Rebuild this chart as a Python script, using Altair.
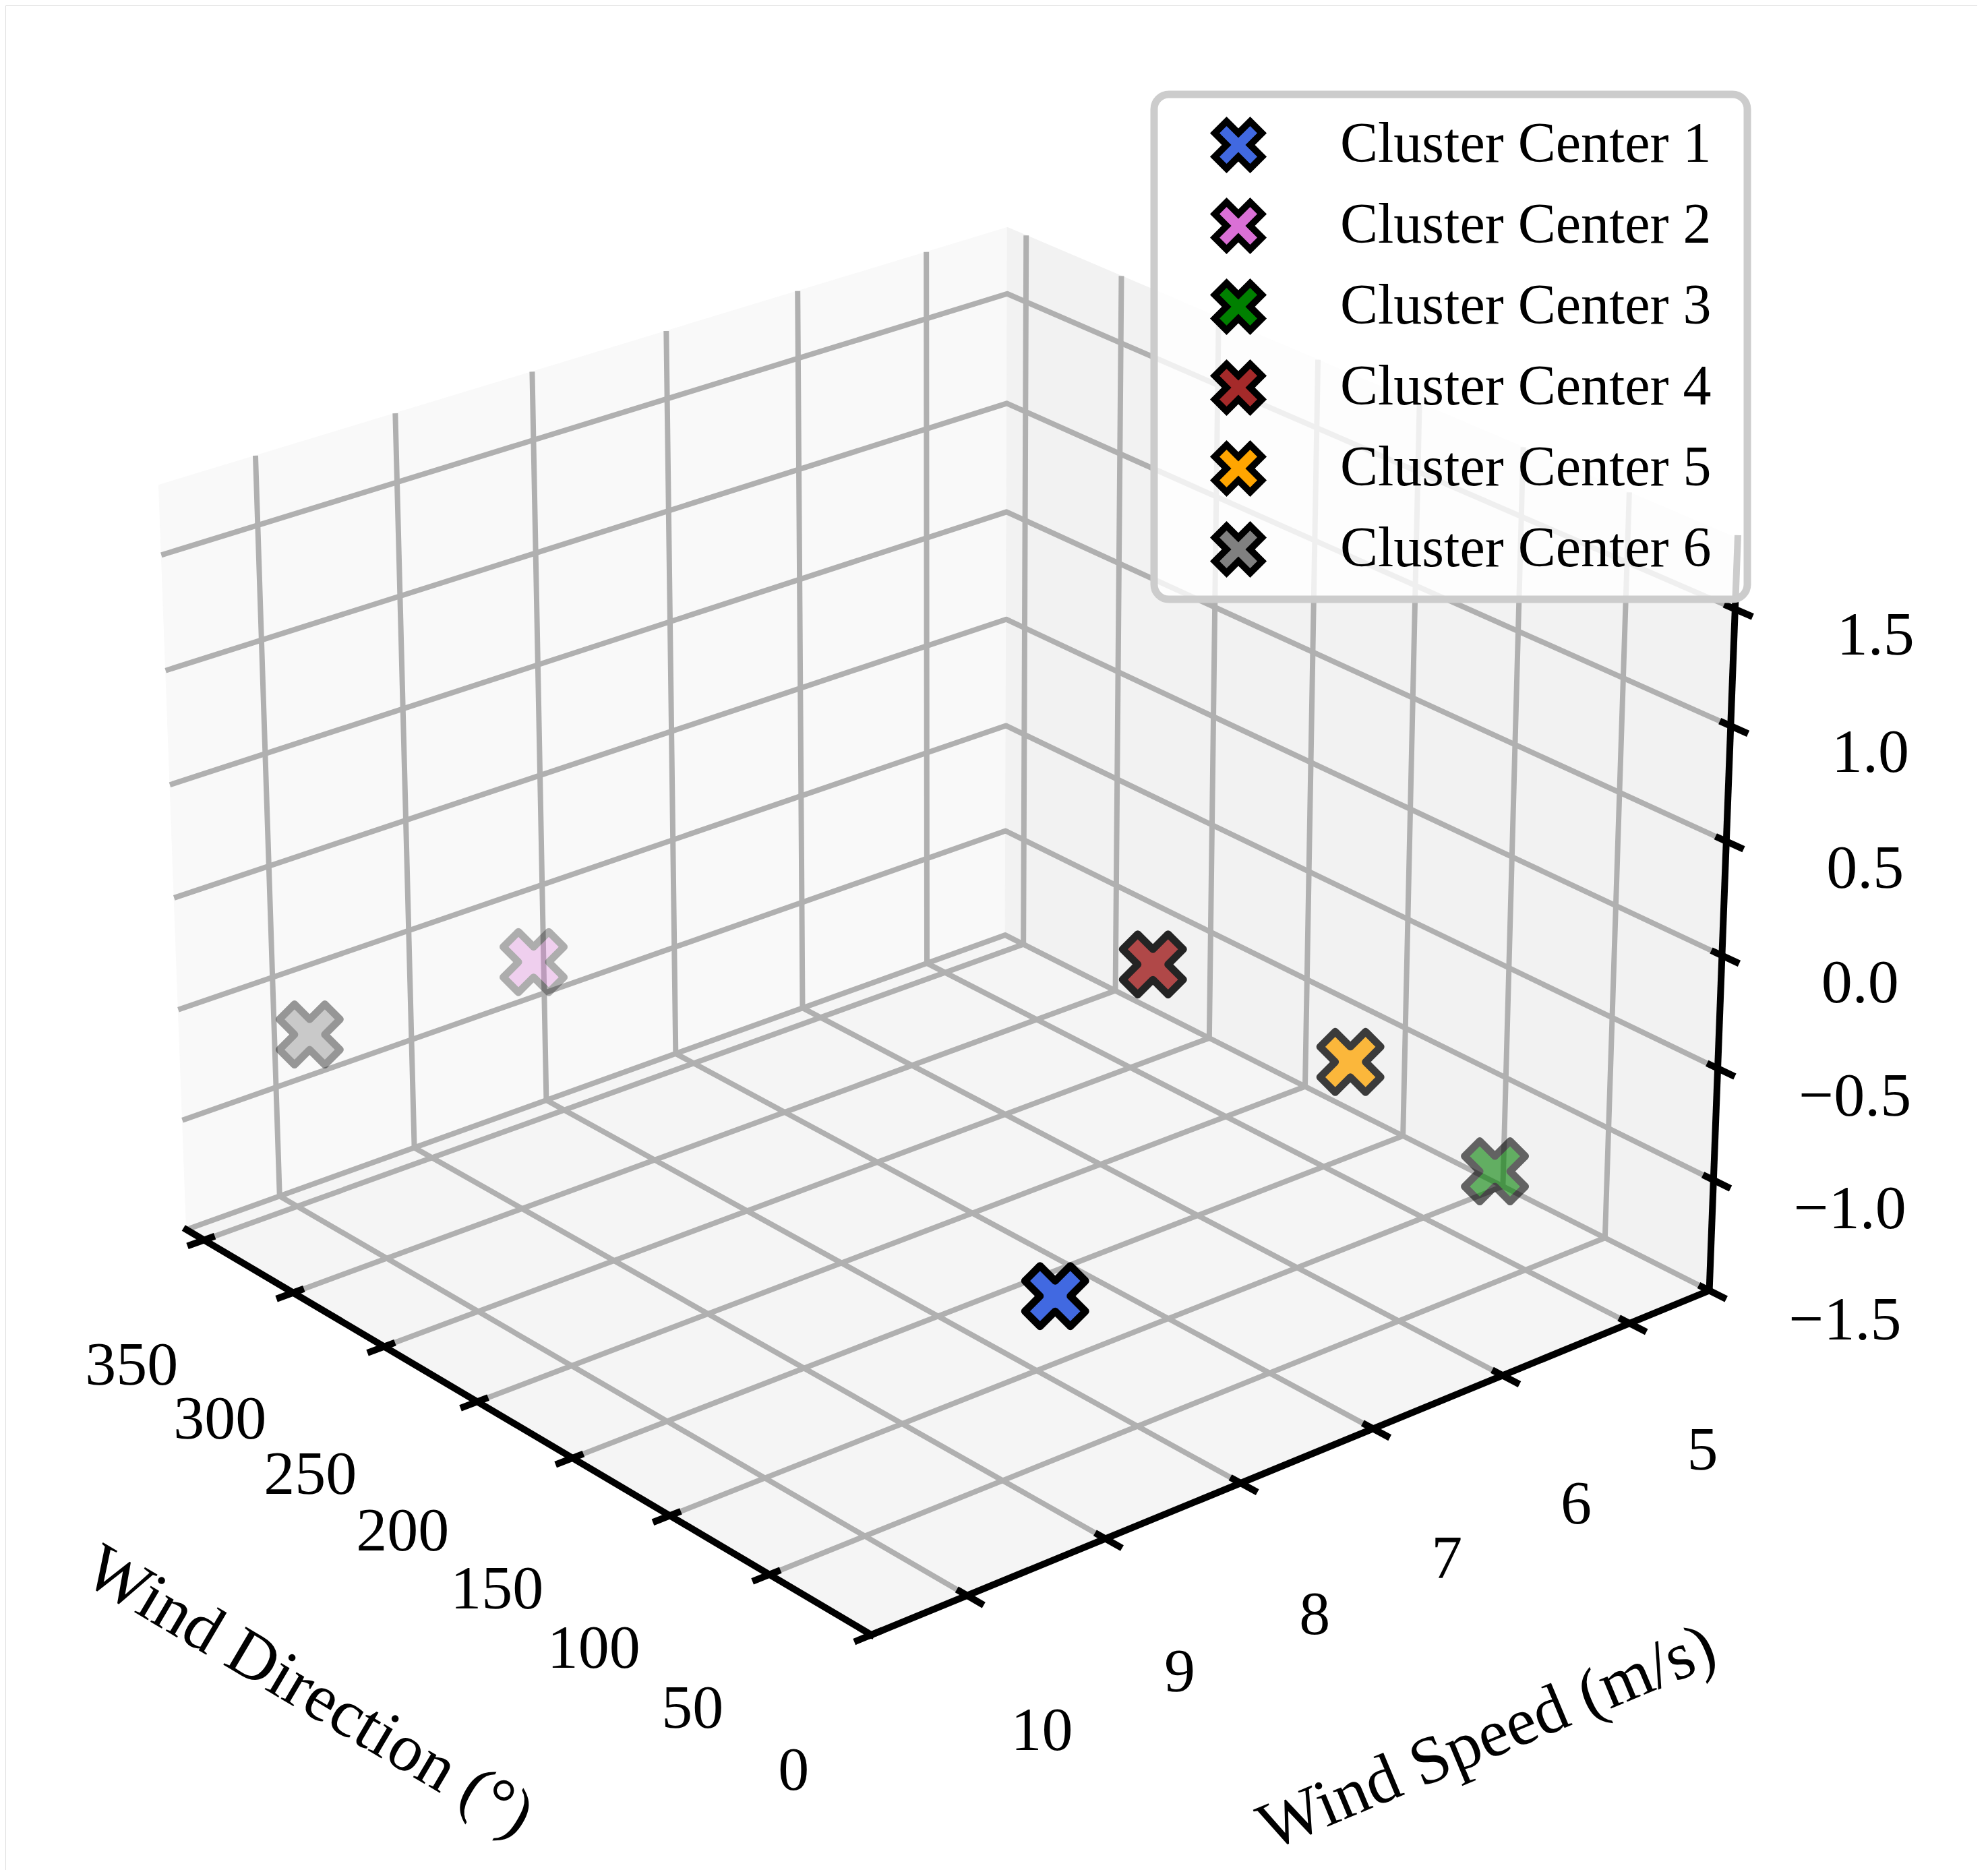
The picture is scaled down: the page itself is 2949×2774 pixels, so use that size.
import math
import altair as alt
import pandas as pd

# ---------------- data ----------------
CLUSTERS = ["Cluster Center 1", "Cluster Center 2", "Cluster Center 3",
            "Cluster Center 4", "Cluster Center 5", "Cluster Center 6"]
COLORS = ["#4169e1", "#da70d6", "#008000", "#a52a2a", "#ffa500", "#808080"]
DIRECTION = [50.0, 338.0, 48.6, 93.3, 59.9, 358.0]
SPEED = [8.62, 8.37, 5.29, 7.25, 6.26, 9.77]
ZVAL = [-0.78, -0.68, -0.98, 0.16, -0.33, -0.80]

X_TICKS = [0, 50, 100, 150, 200, 250, 300, 350]
Y_TICKS = [5, 6, 7, 8, 9, 10]
Z_TICKS = [-1.5, -1.0, -0.5, 0.0, 0.5, 1.0, 1.5]
X_LIM = [0.0, 360.0]
Y_LIM = [4.36, 10.68]
Z_LIM = [-1.5, 1.8]
X_TITLE = "Wind Direction (°)"
Y_TITLE = "Wind Speed (m/s)"

# ---------------- view (3D projection) ----------------
W, H = 2925, 2766
ELEV, AZIM, DIST = 25.0, 140.0, 10.0
S, CX, CY = 14284.0, 1391.0, 1316.0
e, a = math.radians(ELEV), math.radians(AZIM)
U_ = (-math.sin(a), math.cos(a), 0.0)
V_ = (-math.sin(e) * math.cos(a), -math.sin(e) * math.sin(a), math.cos(e))
W_ = (math.cos(e) * math.cos(a), math.cos(e) * math.sin(a), math.sin(e))
_n = math.sqrt(4 * 4 + 4 * 4 + 3 * 3)
BOX = [b * 1.8294640721620434 / _n for b in (4, 4, 3)]


def _q(field, lim, b):
    return f"((datum['{field}']-({lim[0]}))/({lim[1] - lim[0]})*{b}-{b / 2})"


def proj(xf, yf, zf, sx="px", sy="py", depth=None):
    qx, qy, qz = _q(xf, X_LIM, BOX[0]), _q(yf, Y_LIM, BOX[1]), _q(zf, Z_LIM, BOX[2])
    U = f"({U_[0]}*{qx}+({U_[1]})*{qy})"
    V = f"({V_[0]}*{qx}+({V_[1]})*{qy}+({V_[2]})*{qz})"
    D = f"({W_[0]}*{qx}+({W_[1]})*{qy}+({W_[2]})*{qz})"
    out = {sx: f"{CX}+{S}*{U}/({DIST}-{D})", sy: f"{CY}-{S}*{V}/({DIST}-{D})"}
    if depth:
        out[depth] = f"-{DIST}/({DIST}-{D})"
    return out


XS = alt.Scale(domain=[0, W], nice=False, zero=False)
YS = alt.Scale(domain=[0, H], nice=False, zero=False, reverse=True)


def xy(xf="px", yf="py"):
    return dict(x=alt.X(f"{xf}:Q", scale=XS, axis=None),
                y=alt.Y(f"{yf}:Q", scale=YS, axis=None))


FONT = "Liberation Serif"
x0, x1 = X_LIM
y0, y1 = Y_LIM
z0, z1 = Z_LIM

# ---------------- panes ----------------
def pane(verts, color):
    rows = [{"k": i, "X": p[0], "Y": p[1], "Z": p[2]} for i, p in enumerate(verts + [verts[0]])]
    return (alt.Chart(pd.DataFrame(rows))
            .mark_line(fill=color, stroke=color, strokeWidth=1)
            .transform_calculate(**proj("X", "Y", "Z"))
            .encode(**xy(), order="k:Q"))


floor = pane([(x0, y0, z0), (x1, y0, z0), (x1, y1, z0), (x0, y1, z0)], "#f5f5f5")
left_pane = pane([(x1, y0, z0), (x1, y1, z0), (x1, y1, z1), (x1, y0, z1)], "#f9f9f9")
right_pane = pane([(x0, y0, z0), (x1, y0, z0), (x1, y0, z1), (x0, y0, z1)], "#f2f2f2")

# ---------------- grid lines ----------------
grid_rows = []
gid = 0
for xv in X_TICKS:
    for k, p in enumerate([(xv, y1, z0), (xv, y0, z0), (xv, y0, z1)]):
        grid_rows.append({"id": gid, "k": k, "X": p[0], "Y": p[1], "Z": p[2]})
    gid += 1
for yv in Y_TICKS:
    for k, p in enumerate([(x0, yv, z0), (x1, yv, z0), (x1, yv, z1)]):
        grid_rows.append({"id": gid, "k": k, "X": p[0], "Y": p[1], "Z": p[2]})
    gid += 1
for zv in Z_TICKS:
    for k, p in enumerate([(x0, y0, zv), (x1, y0, zv), (x1, y1, zv)]):
        grid_rows.append({"id": gid, "k": k, "X": p[0], "Y": p[1], "Z": p[2]})
    gid += 1
grid = (alt.Chart(pd.DataFrame(grid_rows))
        .mark_line(color="#b0b0b0", strokeWidth=8, strokeJoin="round")
        .transform_calculate(**proj("X", "Y", "Z"))
        .encode(**xy(), detail="id:N", order="k:Q"))

# ---------------- axis lines ----------------
axis_rows = []
for i, (pa, pb) in enumerate([((x0, y1, z0), (x1, y1, z0)),
                              ((x0, y0, z0), (x0, y1, z0)),
                              ((x0, y0, z0), (x0, y0, z1))]):
    for k, p in enumerate([pa, pb]):
        axis_rows.append({"id": i, "k": k, "X": p[0], "Y": p[1], "Z": p[2]})
axes = (alt.Chart(pd.DataFrame(axis_rows))
        .mark_line(color="black", strokeWidth=10, strokeCap="square")
        .transform_calculate(**proj("X", "Y", "Z"))
        .encode(**xy(), detail="id:N", order="k:Q"))

# ---------------- ticks ----------------
XT_IN, XT_OUT = 0.078, 0.12      # along speed units
YT_IN, YT_OUT = 5.0, 8.0         # along direction units
tick_rows = []
for xv in X_TICKS:
    tick_rows.append({"X1": xv, "Y1": y1 - XT_IN, "Z1": z0, "X2": xv, "Y2": y1 + XT_OUT, "Z2": z0})
for yv in Y_TICKS:
    tick_rows.append({"X1": x0 + YT_IN, "Y1": yv, "Z1": z0, "X2": x0 - YT_OUT, "Y2": yv, "Z2": z0})
for zv in Z_TICKS:
    tick_rows.append({"X1": x0 + YT_IN, "Y1": y0, "Z1": zv, "X2": x0 - YT_OUT, "Y2": y0, "Z2": zv})
ticks = (alt.Chart(pd.DataFrame(tick_rows))
         .mark_rule(color="black", strokeWidth=10)
         .transform_calculate(**proj("X1", "Y1", "Z1", "px1", "py1"))
         .transform_calculate(**proj("X2", "Y2", "Z2", "px2", "py2"))
         .encode(x=alt.X("px1:Q", scale=XS, axis=None), x2="px2:Q",
                 y=alt.Y("py1:Q", scale=YS, axis=None), y2="py2:Q"))

# ---------------- tick labels ----------------
lab_rows = []
for xv in X_TICKS:
    lab_rows.append({"X": xv, "Y": y1 + 0.55, "Z": z0 - 0.45, "label": f"{xv:d}"})
for yv in Y_TICKS:
    lab_rows.append({"X": x0 - 36.0, "Y": yv, "Z": z0 - 0.40, "label": f"{yv:d}"})
for zv in Z_TICKS:
    lab_rows.append({"X": x0 - 44.0, "Y": y0 - 0.34, "Z": zv,
                     "label": f"{zv:.1f}".replace("-", "\u2212")})
labels = (alt.Chart(pd.DataFrame(lab_rows))
          .mark_text(font=FONT, fontSize=92, color="black", align="center", baseline="middle")
          .transform_calculate(**proj("X", "Y", "Z"))
          .encode(**xy(), text="label:N"))

# ---------------- axis titles ----------------
xt = (alt.Chart(pd.DataFrame([{"X": (x0 + x1) / 2, "Y": y1 + 1.49, "Z": z0 - 0.83, "t": X_TITLE}]))
      .mark_text(font=FONT, fontSize=100, color="black", align="center", baseline="middle", angle=30.6)
      .transform_calculate(**proj("X", "Y", "Z"))
      .encode(**xy(), text="t:N"))
yt = (alt.Chart(pd.DataFrame([{"X": x0 - 88.0, "Y": (y0 + y1) / 2, "Z": z0 - 0.79, "t": Y_TITLE}]))
      .mark_text(font=FONT, fontSize=100, color="black", align="center", baseline="middle", angle=337.4)
      .transform_calculate(**proj("X", "Y", "Z"))
      .encode(**xy(), text="t:N"))

# ---------------- legend frame (drawn beneath the legend entries) ----------------
frame = (alt.Chart(pd.DataFrame([{"f": 0}]))
         .mark_rect(fill="white", fillOpacity=0.8, stroke="#cccccc", strokeWidth=11,
                    cornerRadius=22)
         .encode(x=alt.value(1704), x2=alt.value(2584), y=alt.value(132), y2=alt.value(881)))

# ---------------- cluster centers ----------------
XPATH = ("M-0.5,-1L0,-0.5L0.5,-1L1,-0.5L0.5,0L1,0.5L0.5,1L0,0.5"
         "L-0.5,1L-1,0.5L-0.5,0L-1,-0.5Z")
mk = pd.DataFrame({"cluster": CLUSTERS, "X": DIRECTION, "Y": SPEED, "Z": ZVAL})
points = (alt.Chart(mk)
          .mark_point(shape=XPATH, filled=True, size=8100, stroke="black",
                      strokeWidth=11, strokeJoin="round")
          .transform_calculate(**proj("X", "Y", "Z", depth="tz"))
          .transform_joinaggregate(tmin="min(tz)", tmax="max(tz)")
          .transform_calculate(alpha="1-0.7*(datum.tz-datum.tmin)/(datum.tmax-datum.tmin)")
          .encode(**xy(),
                  color=alt.Color("cluster:N",
                                  scale=alt.Scale(domain=CLUSTERS, range=COLORS),
                                  legend=alt.Legend(
                                      title=None, orient="none", legendX=1704, legendY=132,
                                      symbolType=XPATH, symbolSize=4900,
                                      symbolStrokeColor="black", symbolStrokeWidth=10,
                                      symbolOpacity=1, labelFont=FONT, labelFontSize=84,
                                      labelColor="black", labelLimit=2000,
                                      padding=33, rowPadding=10, symbolOffset=50,
                                      labelOffset=109)),
                  opacity=alt.Opacity("alpha:Q", scale=None),
                  order=alt.Order("tz:Q", sort="descending")))

chart = (alt.layer(floor, left_pane, right_pane, grid, axes, ticks, labels, xt, yt, points, frame)
         .properties(width=W, height=H, padding=0,
                     autosize=alt.AutoSizeParams(type="none"))
         .configure_view(strokeWidth=0)
         .configure(background="white"))

chart.save("out.html", embed_options={"renderer": "svg", "actions": False})
